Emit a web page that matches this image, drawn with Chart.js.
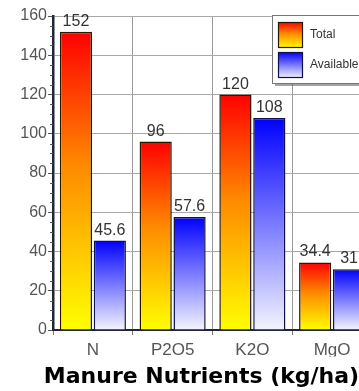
<!DOCTYPE html>
<html>
<head>
<meta charset="utf-8">
<title>Manure Nutrients (kg/ha)</title>
<script src="https://cdn.jsdelivr.net/npm/chart.js@4/dist/chart.umd.min.js"></script>
<style>
  html, body { margin: 0; padding: 0; background: #ffffff; overflow: hidden; }
  #wrap { width: 359px; height: 391px; overflow: hidden; }
  canvas { display: block; }
</style>
</head>
<body>
<div id="wrap"><canvas id="chart" width="380" height="391"></canvas></div>
<script>
// Nutrient categories and the two series (kg/ha)
const categories = ['N', 'P2O5', 'K2O', 'MgO'];
const seriesNames = ['Total', 'Available'];
const totalValues = [152, 96, 120, 34.4];
const availableValues = [45.6, 57.6, 108, 31];
const yMin = 0;
const yMax = 160;
const yStep = 20;
const chartTitle = 'Manure Nutrients (kg/ha)';

const warmStops = [[0, '#ff0000'], [0.45, '#ff8a00'], [1, '#ffff00']];
const coolStops = [[0, '#0000ff'], [1, '#f4f4ff']];

// Vertical gradient spanning each bar from its top to the baseline
function barGradient(context, stops) {
  const chart = context.chart;
  const y = chart.scales.y;
  if (!chart.chartArea || !y || context.type !== 'data') return stops[0][1];
  const v = context.parsed ? context.parsed.y : context.raw;
  const top = y.getPixelForValue(v);
  const base = y.getPixelForValue(0);
  if (!isFinite(top) || !isFinite(base) || top === base) return stops[0][1];
  const g = chart.ctx.createLinearGradient(0, top, 0, base);
  stops.forEach(([o, c]) => g.addColorStop(o, c));
  return g;
}

// Value labels above bars, minor ticks, legend panel and bottom title
const decorations = {
  id: 'decorations',
  beforeDatasetsDraw(chart) {
    const ctx = chart.ctx;
    const y = chart.scales.y;
    const left = chart.chartArea.left;
    ctx.save();
    ctx.strokeStyle = '#555';
    ctx.lineWidth = 1;
    for (let v = yMin; v <= yMax; v += yStep / 4) {
      if (v % yStep === 0) continue;
      const py = Math.round(y.getPixelForValue(v)) + 0.5;
      ctx.beginPath();
      ctx.moveTo(left - 3, py);
      ctx.lineTo(left, py);
      ctx.stroke();
    }
    ctx.restore();
  },
  afterDatasetsDraw(chart) {
    const ctx = chart.ctx;
    ctx.save();
    ctx.font = '16px "Liberation Sans", Arial, sans-serif';
    ctx.fillStyle = '#333';
    ctx.textAlign = 'center';
    ctx.textBaseline = 'alphabetic';
    chart.data.datasets.forEach((ds, di) => {
      const meta = chart.getDatasetMeta(di);
      meta.data.forEach((bar, i) => {
        ctx.fillText(String(ds.data[i]), bar.x, bar.y - 6);
      });
    });
    ctx.restore();
  },
  afterDraw(chart) {
    const ctx = chart.ctx;
    ctx.save();
    // legend panel
    const lx = 272, ly = 15, lw = 112, lh = 68;
    ctx.fillStyle = 'rgba(90,90,90,0.55)';
    ctx.fillRect(lx + 3, ly + 3, lw, lh);
    ctx.fillStyle = '#ffffff';
    ctx.fillRect(lx, ly, lw, lh);
    ctx.strokeStyle = '#777';
    ctx.lineWidth = 1;
    ctx.strokeRect(lx + 0.5, ly + 0.5, lw, lh);
    const swatches = [warmStops, coolStops];
    const borders = ['#2a1800', '#10104a'];
    chart.data.datasets.forEach((ds, i) => {
      const sx = 278, sy = 22 + i * 30, sw = 25, sh = 26;
      const g = ctx.createLinearGradient(0, sy, 0, sy + sh);
      swatches[i].forEach(([o, c]) => g.addColorStop(o, c));
      ctx.fillStyle = g;
      ctx.fillRect(sx, sy, sw, sh);
      ctx.strokeStyle = borders[i];
      ctx.lineWidth = 1.2;
      ctx.strokeRect(sx + 0.5, sy + 0.5, sw - 1, sh - 1);
      ctx.fillStyle = '#333';
      ctx.font = '12px "Liberation Sans", Arial, sans-serif';
      ctx.textAlign = 'left';
      ctx.textBaseline = 'middle';
      ctx.fillText(ds.label, 310, sy + sh / 2);
    });
    // title under the axis
    ctx.fillStyle = '#000';
    ctx.font = 'bold 22px "DejaVu Sans", sans-serif';
    ctx.textAlign = 'center';
    ctx.textBaseline = 'alphabetic';
    ctx.fillText(chartTitle, 201.5, 383);
    ctx.restore();
  }
};

new Chart(document.getElementById('chart'), {
  type: 'bar',
  data: {
    labels: categories,
    datasets: [
      {
        label: seriesNames[0],
        data: totalValues,
        backgroundColor: (c) => barGradient(c, warmStops),
        borderColor: '#2a1800',
        borderWidth: 1.5,
        categoryPercentage: 0.85,
        barPercentage: 0.95
      },
      {
        label: seriesNames[1],
        data: availableValues,
        backgroundColor: (c) => barGradient(c, coolStops),
        borderColor: '#10104a',
        borderWidth: 1.5,
        categoryPercentage: 0.85,
        barPercentage: 0.95
      }
    ]
  },
  options: {
    responsive: false,
    animation: false,
    devicePixelRatio: 1,
    layout: { padding: { top: 16, right: 8, bottom: 34.4, left: 0 } },
    plugins: {
      legend: { display: false },
      tooltip: { enabled: false },
      title: { display: false }
    },
    scales: {
      x: {
        offset: true,
        grid: { display: true, offset: true, color: '#9a9a9a', lineWidth: 1, tickLength: 5, tickColor: '#777' },
        border: { display: true, color: '#1f2638', width: 2 },
        ticks: { color: '#555', padding: 5, font: { family: '"Liberation Sans", Arial, sans-serif', size: 17 } },
        afterFit(scale) { scale.height = 26.6; }
      },
      y: {
        min: yMin,
        max: yMax,
        grid: { color: '#a8a8a8', lineWidth: 1, tickLength: 5, tickColor: '#555' },
        border: { display: true, color: '#1f2638', width: 2.5 },
        ticks: { stepSize: yStep, color: '#555', padding: 1, font: { family: '"Liberation Sans", Arial, sans-serif', size: 16 } },
        afterFit(scale) { scale.width = 53; }
      }
    }
  },
  plugins: [decorations]
});
</script>
</body>
</html>
